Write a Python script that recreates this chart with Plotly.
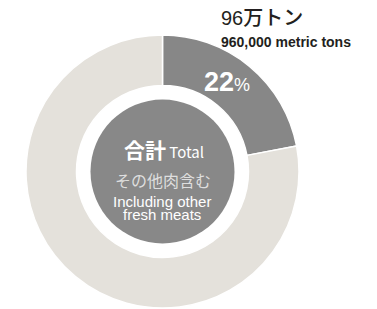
import plotly.graph_objects as go

categories = ["96万トン", "Other"]
shares = [22, 78]
title_jp = "96万トン"
title_en = "960,000 metric tons"
pct_label = "22"
center_lines = ["合計", "Total", "その他肉含む", "Including other", "fresh meats"]

W, H = 377, 309
cx, cy, R = 162.5, 171.5, 136.5
hole_r = 86
inner_r = 72

def px(x):
    return x / W

def py(y):
    return 1 - y / H

FONT = "Liberation Sans, Arial, Noto Sans CJK JP, sans-serif"
JFONT = "Noto Sans CJK JP, Liberation Sans, sans-serif"

fig = go.Figure(go.Pie(
    labels=categories,
    values=shares,
    sort=False,
    direction="clockwise",
    rotation=0,
    hole=hole_r / R,
    textinfo="none",
    marker=dict(colors=["#878787", "#e4e1db"], line=dict(color="#ffffff", width=1.5)),
    domain=dict(x=[px(cx - R), px(cx + R)], y=[py(cy + R), py(cy - R)]),
    showlegend=False,
    hoverinfo="skip",
))

fig.add_shape(type="circle", xref="paper", yref="paper",
              x0=px(cx - inner_r), x1=px(cx + inner_r),
              y0=py(cy + inner_r), y1=py(cy - inner_r),
              fillcolor="#888888", line=dict(width=0), layer="above")

ann = []
ann.append(dict(x=px(219), y=py(18), xanchor="left", yanchor="middle",
                text=title_jp, font=dict(family=FONT, size=20, color="#231f20", weight=500)))
ann.append(dict(x=px(219), y=py(42), xanchor="left", yanchor="middle",
                text="<b>" + title_en + "</b>", font=dict(family=FONT, size=14, color="#231f20")))
ann.append(dict(x=px(202), y=py(82), xanchor="left", yanchor="middle",
                text="<b>" + pct_label + "</b><span style='font-size:18px'>%</span>",
                font=dict(family=FONT, size=27, color="#ffffff")))
ann.append(dict(x=px(164), y=py(149), xanchor="center", yanchor="middle",
                text="<b style='font-size:21px'>" + center_lines[0] + "</b> " + center_lines[1],
                font=dict(family=JFONT, size=15, color="#ffffff")))
ann.append(dict(x=px(162.5), y=py(180), xanchor="center", yanchor="middle",
                text=center_lines[2], font=dict(family=JFONT, size=16, color="#dedede")))
ann.append(dict(x=px(162), y=py(201.5), xanchor="center", yanchor="middle",
                text=center_lines[3], font=dict(family=FONT, size=15, color="#ffffff")))
ann.append(dict(x=px(162), y=py(214.5), xanchor="center", yanchor="middle",
                text=center_lines[4], font=dict(family=FONT, size=15, color="#ffffff")))
for a in ann:
    a.update(xref="paper", yref="paper", showarrow=False)

fig.update_layout(width=W, height=H, margin=dict(l=0, r=0, t=0, b=0),
                  paper_bgcolor="#ffffff", plot_bgcolor="#ffffff",
                  annotations=ann)

fig.write_html("out.html", config={"displayModeBar": False, "staticPlot": True},
               post_script="document.body.style.margin='0';document.body.style.padding='0';")
